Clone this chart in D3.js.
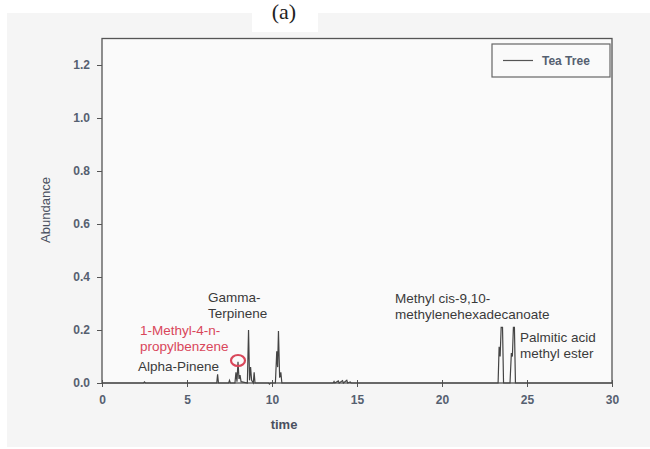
<!DOCTYPE html>
<html>
<head>
<meta charset="utf-8">
<script src="https://cdn.jsdelivr.net/npm/d3@7"></script>
<style>
  body { margin: 0; background: #fff; }
  svg { display: block; font-family: "Liberation Sans", Arial, sans-serif; }
</style>
</head>
<body>
<script>
// chromatogram trace
const timeVals = [0, 2.45, 2.5, 2.55,
  6.75, 6.8, 6.85,
  7.45, 7.5, 7.55,
  7.82, 7.88, 7.94, 8.0, 8.06, 8.12, 8.18,
  8.55, 8.62, 8.68, 8.74, 8.8,
  8.9, 8.95, 9.0,
  9.8, 9.85, 9.9,
  10.2, 10.28, 10.33, 10.38, 10.45, 10.52, 10.58,
  13.6, 13.65, 13.7, 13.9, 13.95, 14.15, 14.2, 14.4, 14.45, 14.6, 14.65,
  23.3, 23.36, 23.42, 23.48, 23.56, 23.62,
  24.0, 24.08, 24.14, 24.2, 24.26, 24.32, 30];
const abundanceVals = [0, 0, 0.004, 0,
  0, 0.033, 0,
  0, 0.01, 0,
  0, 0.04, 0.005, 0.08, 0.015, 0.03, 0.005,
  0, 0.2, 0.01, 0.06, 0.01,
  0, 0.04, 0,
  0, -0.004, 0,
  0, 0.12, 0.06, 0.196, 0.02, 0.04, 0,
  0, 0.006, 0, 0.008, 0, 0.009, 0, 0.01, 0, 0.004, 0,
  0, 0.137, 0.1, 0.21, 0.21, 0,
  0, 0.113, 0.1, 0.21, 0.21, 0, 0];

const xTicks = [0, 5, 10, 15, 20, 25, 30];
const yTicks = [0, 0.2, 0.4, 0.6, 0.8, 1.0, 1.2];
const seriesName = "Tea Tree";

const width = 650, height = 449;
const m = { left: 102, right: 612, top: 38.5, bottom: 383 };

const svg = d3.select("body").append("svg")
  .attr("width", width).attr("height", height);

// page background + white caption box
svg.append("rect").attr("x", 7).attr("y", 13).attr("width", 643).attr("height", 434)
  .attr("fill", "#f5f5f5");
svg.append("rect").attr("x", 252).attr("y", 0).attr("width", 66).attr("height", 32)
  .attr("fill", "#fff");
svg.append("text").attr("x", 284).attr("y", 19)
  .attr("text-anchor", "middle")
  .style("font-family", "'Liberation Serif', serif")
  .style("font-size", "22px").attr("fill", "#222")
  .text("(a)");

const x = d3.scaleLinear().domain([0, 30]).range([m.left, m.right]);
const y = d3.scaleLinear().domain([0, 1.3]).range([m.bottom, m.top]);

svg.append("rect")
  .attr("x", m.left).attr("y", m.top)
  .attr("width", m.right - m.left).attr("height", m.bottom - m.top)
  .attr("fill", "#fafafa").attr("stroke", "#555").attr("stroke-width", 1.3);

const tickColor = "#556070";

svg.append("g")
  .attr("transform", `translate(${m.left},0)`)
  .call(d3.axisLeft(y).tickValues(yTicks).tickFormat(d3.format(".1f")).tickSize(5).tickPadding(7))
  .call(g => g.select(".domain").remove())
  .call(g => g.selectAll(".tick line").attr("stroke", "#555"))
  .call(g => g.selectAll(".tick text").attr("fill", tickColor)
    .style("font-size", "12px").style("font-weight", "bold"));

svg.append("g")
  .attr("transform", `translate(0,${m.bottom})`)
  .call(d3.axisBottom(x).tickValues(xTicks).tickSize(4).tickPadding(8))
  .call(g => g.select(".domain").remove())
  .call(g => g.selectAll(".tick line").attr("y1", -3).attr("stroke", "#555"))
  .call(g => g.selectAll(".tick text").attr("fill", tickColor)
    .style("font-size", "12px").style("font-weight", "bold"));

svg.append("text")
  .attr("x", (m.left + m.right) / 2 - 73).attr("y", 429)
  .attr("text-anchor", "middle").attr("fill", "#4a5060")
  .style("font-size", "13px").style("font-weight", "bold")
  .text("time");

svg.append("text")
  .attr("transform", "translate(50,210) rotate(-90)")
  .attr("text-anchor", "middle").attr("fill", "#4a5060")
  .style("font-size", "13px")
  .text("Abundance");

// trace
const pts = timeVals.map((t, i) => [t, abundanceVals[i]]);
svg.append("path")
  .datum(pts)
  .attr("fill", "none").attr("stroke", "#444").attr("stroke-width", 1.2)
  .attr("d", d3.line().x(d => x(d[0])).y(d => y(d[1])));

// legend
svg.append("rect").attr("x", 492).attr("y", 44).attr("width", 118).attr("height", 33)
  .attr("fill", "#fafafa").attr("stroke", "#666").attr("stroke-width", 1.2);
svg.append("line").attr("x1", 503).attr("x2", 533).attr("y1", 60.5).attr("y2", 60.5)
  .attr("stroke", "#555").attr("stroke-width", 1.2);
svg.append("text").attr("x", 542).attr("y", 65)
  .attr("fill", "#556070").style("font-size", "12px").style("font-weight", "bold")
  .text(seriesName);

// peak labels
const labels = [
  { lines: ["Gamma-", "Terpinene"], x: 208, y: 302, color: "#3a3a3a" },
  { lines: ["1-Methyl-4-n-", "propylbenzene"], x: 140, y: 335, color: "#d9475a" },
  { lines: ["Alpha-Pinene"], x: 138, y: 371, color: "#3a3a3a" },
  { lines: ["Methyl cis-9,10-", "methylenehexadecanoate"], x: 395, y: 303, color: "#3a3a3a" },
  { lines: ["Palmitic acid", "methyl ester"], x: 520, y: 342, color: "#3a3a3a" }
];
labels.forEach(l => {
  const t = svg.append("text").attr("fill", l.color).style("font-size", "13.5px");
  l.lines.forEach((s, i) => {
    t.append("tspan").attr("x", l.x).attr("y", l.y + i * 16).text(s);
  });
});

// red circle around the propylbenzene peak
svg.append("ellipse")
  .attr("cx", x(8.0)).attr("cy", y(0.085))
  .attr("rx", 7).attr("ry", 5.5)
  .attr("fill", "none").attr("stroke", "#d9475a").attr("stroke-width", 2.2);
</script>
</body>
</html>
